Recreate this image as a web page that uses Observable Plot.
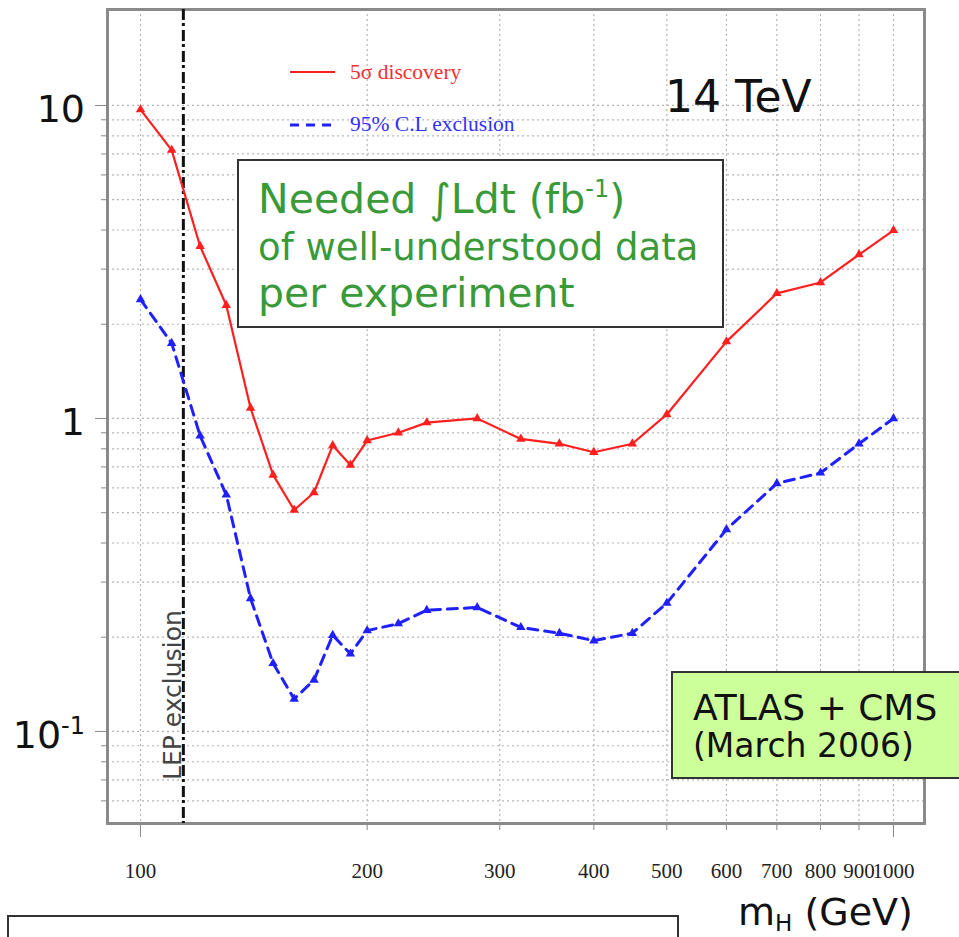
<!DOCTYPE html>
<html><head><meta charset="utf-8">
<script src="https://cdn.jsdelivr.net/npm/d3@7"></script>
<script src="https://cdn.jsdelivr.net/npm/@observablehq/plot@0.6"></script>
<style>body{margin:0;background:#fff}#chart{position:relative;width:959px;height:937px;overflow:hidden}</style>
</head><body><div id="chart"></div>
<script>
// ---- data ----
const massGeV = [100,110,120,130,140,150,160,170,180,190,200,220,240,280,320,360,400,450,500,600,700,800,900,1000];
const discovery5sigma = [9.7,7.2,3.55,2.3,1.08,0.66,0.51,0.58,0.82,0.71,0.85,0.90,0.97,1.0,0.86,0.83,0.78,0.83,1.03,1.76,2.51,2.72,3.34,3.99];
const exclusion95CL = [2.4,1.74,0.88,0.57,0.266,0.165,0.127,0.146,0.203,0.177,0.210,0.221,0.244,0.249,0.215,0.206,0.195,0.206,0.257,0.442,0.62,0.67,0.83,1.0];
const xTicks = [100,200,300,400,500,600,700,800,900,1000];
const xLongTicks = [100,1000];
const yMajorTicks = [0.1,1,10];
const yMinorTicks = [0.06,0.07,0.08,0.09,0.2,0.3,0.4,0.5,0.6,0.7,0.8,0.9,2,3,4,5,6,7,8,9];
const yTickLabels = [{v:10, base:"10", sup:""},{v:1, base:"1", sup:""},{v:0.1, base:"10", sup:"-1"}];
const lepExclusionGeV = [114];
const lepLabel = [{mH:114, v:0.07, text:"LEP exclusion"}];
const legendLabels = ["5σ discovery","95% C.L exclusion"];
const boxLines = ["Needed ∫Ldt (fb", "of well-understood data", "per experiment"];
const energyLabel = "14 TeV";
const atlasLines = ["ATLAS + CMS","(March 2006)"];

const discovery = massGeV.map((m,i)=>({m, v:discovery5sigma[i]}));
const exclusion = massGeV.map((m,i)=>({m, v:exclusion95CL[i]}));

const RED = "#ff1f1f", BLUE = "#1f1fff", GREEN = "#3a9a3a";

// y tick labels with real superscripts, positioned through the y scale
function yLabels(index, scales) {
  const g = d3.create("svg:g").attr("text-anchor","end").attr("font-size",38).attr("fill","#111");
  for (const d of yTickLabels) {
    const t = g.append("text").attr("x",85).attr("y",scales.y(d.v) + 17);
    t.append("tspan").text(d.base);
    if (d.sup) t.append("tspan").attr("font-size",24).attr("dy",-14).text(d.sup);
  }
  return g.node();
}

function annotations() {
  const g = d3.create("svg:g").attr("text-anchor","start");
  // legend
  g.append("line").attr("x1",290).attr("x2",335).attr("y1",72).attr("y2",72)
    .attr("stroke",RED).attr("stroke-width",2);
  g.append("text").attr("x",350).attr("y",79).attr("font-family","Liberation Serif")
    .attr("font-size",21.5).attr("fill","#f03030").text(legendLabels[0]);
  g.append("line").attr("x1",290).attr("x2",336).attr("y1",125).attr("y2",125)
    .attr("stroke",BLUE).attr("stroke-width",3).attr("stroke-dasharray","9,7");
  g.append("text").attr("x",350).attr("y",131).attr("font-family","Liberation Serif")
    .attr("font-size",21.5).attr("fill","#3030ff").text(legendLabels[1]);
  // energy
  g.append("text").attr("x",665).attr("y",112).attr("font-size",44).attr("fill","#111").text(energyLabel);
  // green text box
  g.append("rect").attr("x",238).attr("y",160).attr("width",485).attr("height",167)
    .attr("fill","white").attr("stroke","#333").attr("stroke-width",2);
  const t1 = g.append("text").attr("x",258).attr("y",213).attr("font-size",41).attr("fill",GREEN);
  t1.append("tspan").text(boxLines[0]);
  t1.append("tspan").attr("font-size",24).attr("dy",-16).text("-1");
  t1.append("tspan").attr("dy",16).text(")");
  g.append("text").attr("x",258).attr("y",260).attr("font-size",37).attr("fill",GREEN).text(boxLines[1]);
  g.append("text").attr("x",258).attr("y",307).attr("font-size",41).attr("fill",GREEN).text(boxLines[2]);
  // ATLAS + CMS box
  g.append("rect").attr("x",672).attr("y",672).attr("width",320).attr("height",106)
    .attr("fill","#ccff99").attr("stroke","#333").attr("stroke-width",2);
  g.append("text").attr("x",693).attr("y",720).attr("font-size",36).attr("fill","#111").text(atlasLines[0]);
  g.append("text").attr("x",693).attr("y",757).attr("font-size",33).attr("fill","#111").text(atlasLines[1]);
  // bottom box (cut off in the reference)
  g.append("rect").attr("x",8).attr("y",916).attr("width",670).attr("height",60)
    .attr("fill","white").attr("stroke","#333").attr("stroke-width",2);
  // x axis title
  const xt = g.append("text").attr("x",738).attr("y",925).attr("font-size",38).attr("fill","#111");
  xt.append("tspan").text("m");
  xt.append("tspan").attr("font-size",23).attr("dy",6).text("H");
  xt.append("tspan").attr("dy",-6).text(" (GeV)");
  return g.node();
}

const chart = Plot.plot({
  width: 959, height: 937,
  marginLeft: 107, marginRight: 35, marginTop: 9, marginBottom: 114,
  style: {fontFamily: "DejaVu Sans", background: "white", overflow: "visible"},
  x: {type: "log", domain: [90.4, 1099.5], label: null},
  y: {type: "log", domain: [0.0508, 20.26], label: null},
  marks: [
    Plot.gridX(xTicks, {stroke: "#b5b5b5", strokeOpacity: 1, strokeWidth: 1.2, strokeDasharray: "2,3"}),
    Plot.gridY([...yMinorTicks, ...yMajorTicks], {stroke: "#b5b5b5", strokeOpacity: 1, strokeWidth: 1.2, strokeDasharray: "2,3"}),
    Plot.axisY({ticks: yMinorTicks, tickSize: 6, tickFormat: () => "", stroke: "#888", label: null}),
    Plot.axisY({ticks: yMajorTicks, tickSize: 12, tickFormat: () => "", stroke: "#888", label: null}),
    yLabels,
    Plot.axisX({ticks: xTicks, tickSize: 7, tickPadding: 33, tickFormat: d => String(d),
      fontSize: 21, fontFamily: "Liberation Serif", stroke: "#888", fill: "#222", label: null}),
    Plot.axisX({ticks: xLongTicks, tickSize: 14, tickFormat: () => "", stroke: "#888", label: null}),
    Plot.frame({stroke: "#8a8a8a", strokeWidth: 3}),
    Plot.ruleX(lepExclusionGeV, {stroke: "#111", strokeWidth: 3, strokeDasharray: "11,3,3,4"}),
    Plot.text(lepLabel, {x: "mH", y: "v", text: "text", rotate: -90, textAnchor: "start", lineAnchor: "bottom",
      dx: -2, fontSize: 25, fill: "#444"}),
    Plot.line(exclusion, {x: "m", y: "v", stroke: BLUE, strokeWidth: 3, strokeDasharray: "10,7"}),
    Plot.dot(exclusion, {x: "m", y: "v", symbol: "triangle", r: 3.5, fill: BLUE}),
    Plot.line(discovery, {x: "m", y: "v", stroke: RED, strokeWidth: 2.2}),
    Plot.dot(discovery, {x: "m", y: "v", symbol: "triangle", r: 3.5, fill: RED}),
    annotations
  ]
});
document.getElementById("chart").append(chart);
</script>
</body></html>
